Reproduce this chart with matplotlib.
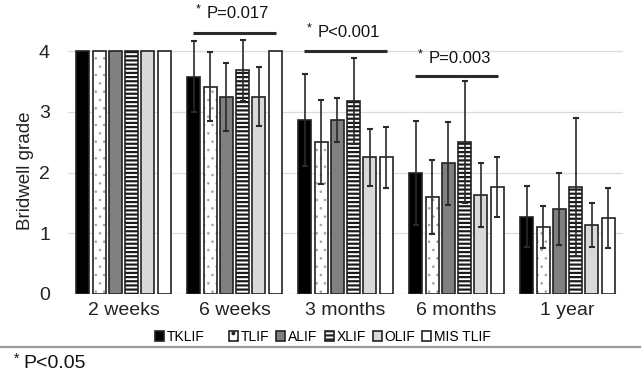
import numpy as np
import matplotlib
matplotlib.use("Agg")
import matplotlib.pyplot as plt
from matplotlib.patches import Patch

plt.rcParams['font.family'] = ['Liberation Sans', 'DejaVu Sans']
plt.rcParams['hatch.linewidth'] = 1.6

timepoints = ["2 weeks", "6 weeks", "3 months", "6 months", "1 year"]
groups = ["TKLIF", "TLIF", "ALIF", "XLIF", "OLIF", "MIS TLIF"]

means = {
    "TKLIF":    [4.0, 3.58, 2.86, 1.99, 1.27],
    "TLIF":     [4.0, 3.41, 2.50, 1.60, 1.10],
    "ALIF":     [4.0, 3.25, 2.86, 2.15, 1.40],
    "XLIF":     [4.0, 3.68, 3.18, 2.50, 1.76],
    "OLIF":     [4.0, 3.25, 2.25, 1.63, 1.13],
    "MIS TLIF": [4.0, 4.00, 2.25, 1.76, 1.25],
}
errors = {
    "TKLIF":    [0.0, 0.58, 0.76, 0.86, 0.50],
    "TLIF":     [0.0, 0.57, 0.69, 0.61, 0.35],
    "ALIF":     [0.0, 0.56, 0.36, 0.68, 0.60],
    "XLIF":     [0.0, 0.50, 0.71, 1.00, 1.13],
    "OLIF":     [0.0, 0.48, 0.47, 0.52, 0.36],
    "MIS TLIF": [0.0, 0.00, 0.50, 0.49, 0.50],
}
sig_groups = [1, 2, 3]
sig_labels = ["P=0.017", "P<0.001", "P=0.003"]
sig_line_y = [4.30, 4.00, 3.59]
sig_text_y = [4.61, 4.31, 3.88]

styles = {
    "TKLIF":    dict(fc="black", hatch=None, hc=None, hlw=1.6),
    "TLIF":     dict(fc="white", hatch="..", hc="#a0a0a0", hlw=0.6),
    "ALIF":     dict(fc="#808080", hatch=None, hc=None, hlw=1.6),
    "XLIF":     dict(fc="white", hatch="----", hc="#1a1a1a", hlw=1.6),
    "OLIF":     dict(fc="#d9d9d9", hatch=None, hc=None, hlw=1.6),
    "MIS TLIF": dict(fc="white", hatch=None, hc=None, hlw=1.6),
}
edge = "#222222"

fig = plt.figure(figsize=(6.42, 3.78), dpi=100)
ax = fig.add_axes([68/642, 84/378, 555/642, 294/378])
ax.set_xlim(-0.5, 4.5)
ax.set_ylim(0, 294/60.75)

x = np.arange(len(timepoints))
pitch = 0.147
width = 0.117
for i, g in enumerate(groups):
    pos = x + (i - 2.5) * pitch
    st = styles[g]
    if st["hatch"]:
        with plt.rc_context({"hatch.linewidth": st["hlw"]}):
            bc = ax.bar(pos, means[g], width, color=st["fc"], edgecolor=st["hc"],
                        hatch=st["hatch"], linewidth=0, zorder=2)
            for p in bc:
                if hasattr(p, "set_hatch_linewidth"):
                    p.set_hatch_linewidth(st["hlw"])
        ax.bar(pos, means[g], width, fill=False, edgecolor=edge, linewidth=1.2, zorder=3)
    else:
        ax.bar(pos, means[g], width, color=st["fc"], edgecolor=edge, linewidth=1.2, zorder=3)
    err = np.array(errors[g])
    m = np.array(means[g])
    mask = err > 0
    ax.errorbar(pos[mask], m[mask], yerr=err[mask], fmt="none", ecolor="#2a2a2a",
                elinewidth=1.2, capsize=2.2, capthick=1.5, zorder=4)

for gi, lab, ly, ty in zip(sig_groups, sig_labels, sig_line_y, sig_text_y):
    ax.plot([gi - 0.375, gi + 0.375], [ly, ly], color="#2a2a2a", lw=2.2,
            clip_on=False, zorder=5, solid_capstyle="butt")
    ax.text(gi + 0.03, ty, lab, ha="center", va="center", fontsize=12,
            color="#111111", clip_on=False)
    ax.annotate("*", xy=(gi + 0.03, ty), xytext=(-27, 3), textcoords="offset points",
                ha="right", va="center", fontsize=9, color="#111111", annotation_clip=False)

for s in ax.spines.values():
    s.set_visible(False)
ax.set_yticks([0, 1, 2, 3, 4])
ax.set_yticklabels(["0", "1", "2", "3", "4"], fontsize=14, color="#222222")
ax.yaxis.grid(True, color="#dcdcdc", lw=0.9, zorder=0)
ax.set_axisbelow(True)
ax.tick_params(axis="y", length=0, pad=13)
ax.tick_params(axis="x", length=0, pad=6)
ax.set_xticks(x)
ax.set_xticklabels(timepoints, fontsize=14, color="#222222")

fig.text(25/642, 1 - 171/378, "Bridwell grade", rotation=90, ha="center", va="center",
         fontsize=13.5, color="#222222")

def handle(g):
    st = styles[g]
    return Patch(facecolor=st["fc"], edgecolor=edge, hatch=st["hatch"], linewidth=1.2)

fig.legend([handle("TKLIF")], ["TKLIF"], loc="center",
           bbox_to_anchor=(180/642, 1 - 337/378), frameon=False, fontsize=10,
           handlelength=0.65, handleheight=0.65, handletextpad=0.2)
fig.legend([handle(g) for g in groups[1:]], groups[1:], loc="center",
           bbox_to_anchor=(360/642, 1 - 337/378), frameon=False, fontsize=10, ncol=5,
           handlelength=0.65, handleheight=0.65, handletextpad=0.2, columnspacing=0.5)

fig.add_artist(plt.Line2D([0, 640/642], [1 - 347/378, 1 - 347/378], color="#9a9a9a", lw=1.6,
                          transform=fig.transFigure))
fig.text(23/642, 1 - 364/378, "P<0.05", ha="left", va="center", fontsize=14, color="#111111")
fig.text(19/642, 1 - 359/378, "*", ha="right", va="center", fontsize=10, color="#111111")

fig.savefig("out.png", dpi=100)
